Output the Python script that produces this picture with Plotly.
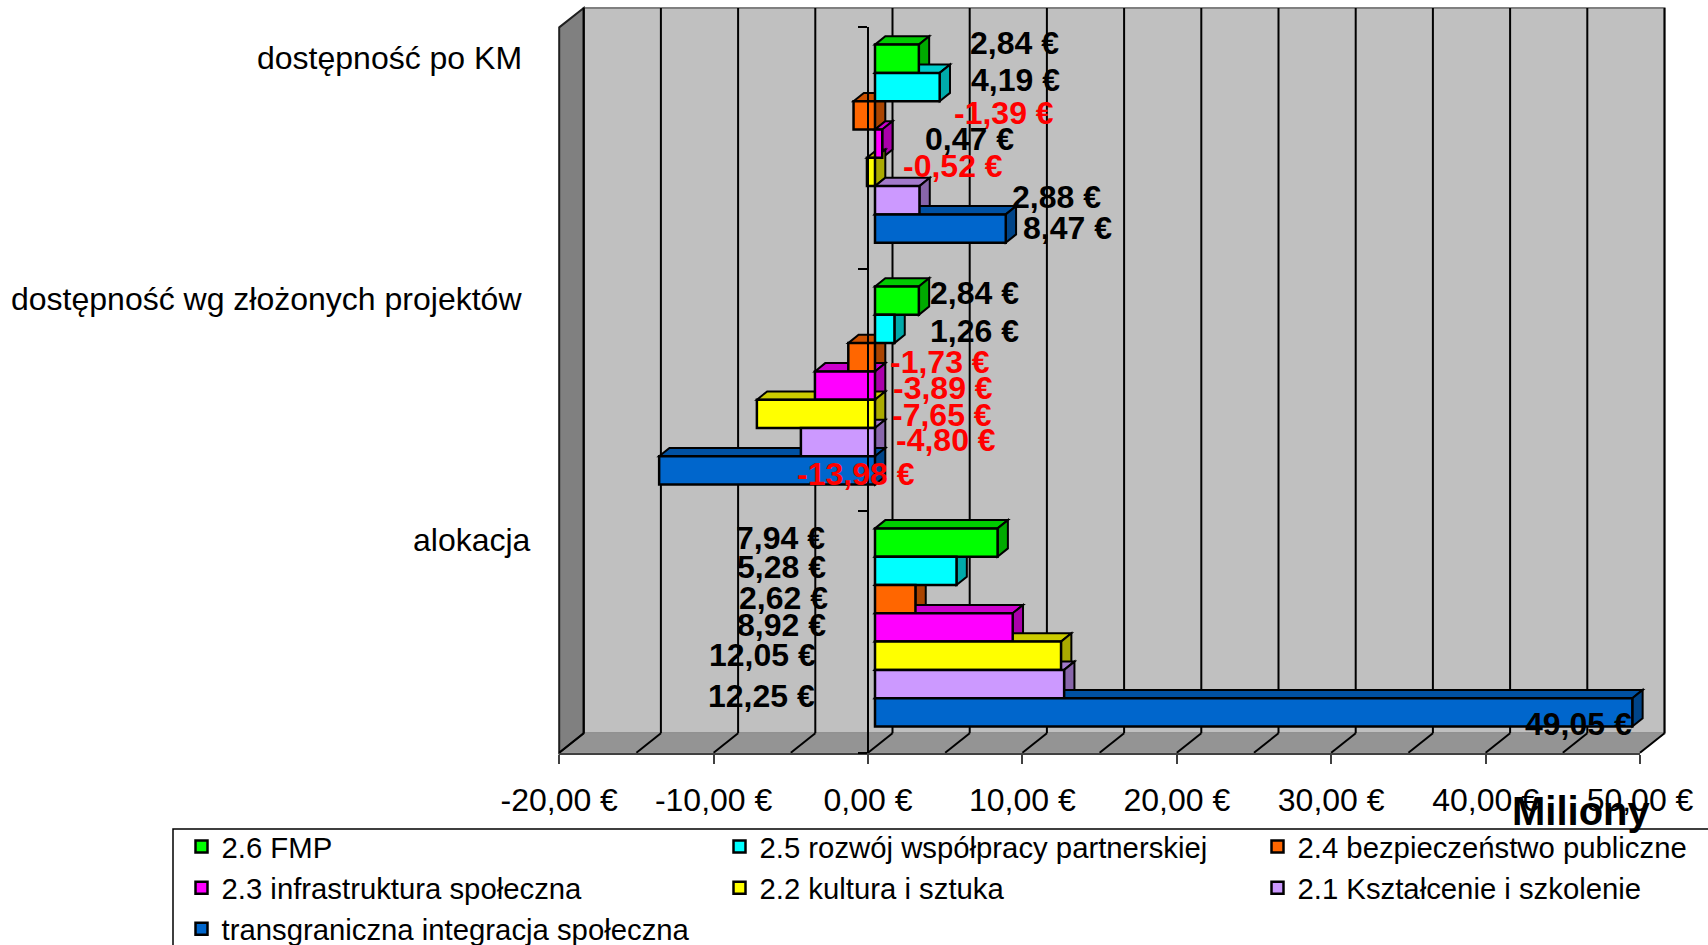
import plotly.graph_objects as go

W, H = 1708, 945
FONT = "Liberation Sans"

# --- data ---------------------------------------------------------------
categories = ["alokacja", "dostępność wg złożonych projektów", "dostępność po KM"]
series_names = ["2.6 FMP", "2.5 rozwój współpracy partnerskiej", "2.4 bezpieczeństwo publiczne",
                "2.3 infrastruktura społeczna", "2.2 kultura i sztuka", "2.1 Kształcenie i szkolenie",
                "transgraniczna integracja społeczna"]
fmp = [7.94, 2.84, 2.84]
rozwoj = [5.28, 1.26, 4.19]
bezpieczenstwo = [2.62, -1.73, -1.39]
infrastruktura = [8.92, -3.89, 0.47]
kultura = [12.05, -7.65, -0.52]
ksztalcenie = [12.25, -4.80, 2.88]
transgraniczna = [49.05, -13.98, 8.47]
series_values = [fmp, rozwoj, bezpieczenstwo, infrastruktura, kultura, ksztalcenie, transgraniczna]
colors = ["#00FF00", "#00FFFF", "#FF6600", "#FF00FF", "#FFFF00", "#CC99FF", "#0066CC"]
x_ticks = [-20, -10, 0, 10, 20, 30, 40, 50]
x_ticktext = ["-20,00 €", "-10,00 €", "0,00 €", "10,00 €", "20,00 €", "30,00 €", "40,00 €", "50,00 €"]
grid_values = list(range(-20, 55, 5))

# --- layout geometry (pixels) --------------------------------------------
X0, XS = 868.0, 15.44            # pixel of value 0, pixels per unit
Y_BOTTOM, Y_TOP = 752.7, 27.0
UNIT_Y = (Y_BOTTOM - Y_TOP) / 3
WALL_DX, WALL_DY = 24.5, 19.4
WALL_TOP = 8.0
BAR_BASE_PX, BAR_RAISE_PX = 7.0, 4.3
BAR_PX = 28.3
DEPTH_DX, DEPTH_DY = 10.3, 8.3

# label centres in pixels, per category then per series
label_pos = [
    [(780, 538), (781, 567), (783, 598), (781, 625), (762, 655), (761, 696), (1578, 724)],
    [(974, 293), (974, 331), (940, 362), (943, 388), (942, 415), (946, 440), (856, 474)],
    [(1014, 43), (1015, 80), (1004, 113), (969, 139), (953, 166), (1056, 197), (1067, 228)],
]
cat_label_pos = [(533, 540), (524, 298.5), (524, 57.7)]


def fx(p):
    return p / W


def fy(p):
    return 1 - p / H


def xp(v):
    return X0 + XS * v


def yp(u):
    return Y_BOTTOM - (u + 0.5) * UNIT_Y


def poly(points, fill, line="#000000", width=2):
    path = "M" + " L".join(f"{fx(a):.5f},{fy(b):.5f}" for a, b in points) + " Z"
    return dict(type="path", path=path, xref="paper", yref="paper", layer="below",
                fillcolor=fill, line=dict(color=line, width=width))


def shade(hexcol, k):
    r, g, b = (int(hexcol[i:i + 2], 16) for i in (1, 3, 5))
    return f"rgb({int(r * k)},{int(g * k)},{int(b * k)})"


shapes = []
x_l, x_r = xp(-20), xp(50)
# back wall, floor, left wall
shapes.append(poly([(x_l + WALL_DX, WALL_TOP), (x_r + WALL_DX, WALL_TOP),
                    (x_r + WALL_DX, Y_BOTTOM - WALL_DY), (x_l + WALL_DX, Y_BOTTOM - WALL_DY)],
                   "#C0C0C0", "#808080", 2))
shapes.append(poly([(x_l, Y_BOTTOM), (x_l + WALL_DX, Y_BOTTOM - WALL_DY),
                    (x_r + WALL_DX, Y_BOTTOM - WALL_DY), (x_r, Y_BOTTOM)], "#949494", "#949494", 1))
shapes.append(poly([(x_l, WALL_TOP + WALL_DY), (x_l + WALL_DX, WALL_TOP),
                    (x_l + WALL_DX, Y_BOTTOM - WALL_DY), (x_l, Y_BOTTOM)], "#808080", "#202020", 2))
# gridlines on wall + floor
for v in grid_values:
    xx = xp(v)
    shapes.append(dict(type="line", xref="paper", yref="paper", layer="below",
                       x0=fx(xx + WALL_DX), x1=fx(xx + WALL_DX), y0=fy(WALL_TOP), y1=fy(Y_BOTTOM - WALL_DY),
                       line=dict(color="#000000", width=2)))
    shapes.append(dict(type="line", xref="paper", yref="paper", layer="below",
                       x0=fx(xx), x1=fx(xx + WALL_DX), y0=fy(Y_BOTTOM), y1=fy(Y_BOTTOM - WALL_DY),
                       line=dict(color="#000000", width=2)))

base = BAR_BASE_PX / XS
bar_w = BAR_PX / UNIT_Y
raise_u = BAR_RAISE_PX / UNIT_Y
traces = []
for i, (name, vals, col) in enumerate(zip(series_names, series_values, colors)):
    ys = [c + raise_u + (3 - i) * bar_w for c in range(len(categories))]
    # extruded faces of the 3D bars
    for v, u in zip(vals, ys):
        a, b = sorted((xp(base), xp(base + v)))
        top, bot = yp(u + bar_w / 2), yp(u - bar_w / 2)
        shapes.append(poly([(a, top), (a + DEPTH_DX, top - DEPTH_DY), (b + DEPTH_DX, top - DEPTH_DY), (b, top)],
                           shade(col, 0.8)))
        shapes.append(poly([(b, top), (b + DEPTH_DX, top - DEPTH_DY), (b + DEPTH_DX, bot - DEPTH_DY), (b, bot)],
                           shade(col, 0.667)))
    traces.append(go.Bar(name=name, orientation="h", x=vals, y=ys, base=base, width=bar_w,
                         marker=dict(color=col, line=dict(color="#000000", width=2.5)),
                         hoverinfo="skip"))

# legend box (runs off the page like the reference)
shapes.append(dict(type="rect", xref="paper", yref="paper", layer="below",
                   x0=fx(173), x1=fx(W + 10), y0=fy(829), y1=fy(H + 10),
                   fillcolor="#FFFFFF", line=dict(color="#000000", width=1.5)))

annotations = []
for c, (cat_vals, pos) in enumerate(zip(zip(*series_values), label_pos)):
    for v, (px, py) in zip(cat_vals, pos):
        annotations.append(dict(text=f"{v:.2f}".replace(".", ",") + " €", xref="paper", yref="paper",
                                x=fx(px), y=fy(py), xanchor="center", yanchor="middle", showarrow=False,
                                font=dict(family=FONT, size=32, color="#FF0000" if v < 0 else "#000000",
                                          weight="bold")))
for cat, (px, py) in zip(categories, cat_label_pos):
    annotations.append(dict(text=cat, xref="paper", yref="paper", x=fx(px), y=fy(py),
                            xanchor="right", yanchor="middle", showarrow=False,
                            font=dict(family=FONT, size=32, color="#000000")))
annotations.append(dict(text="Miliony", xref="paper", yref="paper", x=fx(1581), y=fy(811),
                        xanchor="center", yanchor="middle", showarrow=False,
                        font=dict(family=FONT, size=40, color="#000000", weight="bold")))

fig = go.Figure(traces)
fig.update_layout(
    width=W, height=H, autosize=False,
    margin=dict(l=0, r=0, t=0, b=0, pad=0, autoexpand=False),
    paper_bgcolor="#FFFFFF", plot_bgcolor="rgba(0,0,0,0)",
    barmode="overlay", shapes=shapes, annotations=annotations,
    font=dict(family=FONT, color="#000000"),
    xaxis=dict(domain=[fx(xp(-20)), fx(xp(50))], range=[-20, 50], tickmode="array",
               tickvals=x_ticks, ticktext=x_ticktext, ticks="outside", ticklen=9, tickwidth=1.5,
               tickcolor="#404040", showgrid=False, zeroline=False, showline=True, linecolor="#404040",
               linewidth=2, tickfont=dict(family=FONT, size=32), ticklabelstandoff=9,
               tickangle=0, fixedrange=True, automargin=False),
    yaxis=dict(domain=[fy(Y_BOTTOM), fy(Y_TOP)], range=[-0.5, 2.5], anchor="free", position=fx(X0),
               tickmode="array", tickvals=[-0.5, 0.5, 1.5, 2.5], showticklabels=False,
               ticks="outside", ticklen=9, tickwidth=1.5, tickcolor="#000000", showgrid=False,
               zeroline=False, showline=True, linecolor="#000000", linewidth=2, fixedrange=True,
               automargin=False),
    legend=dict(orientation="h", x=fx(181.5), y=fy(821), xanchor="left", yanchor="top",
                bgcolor="rgba(0,0,0,0)", entrywidth=493, entrywidthmode="pixels",
                traceorder="normal", font=dict(family=FONT, size=29.3), itemwidth=30),
    showlegend=True,
)
fig.write_html("out.html", config=dict(displayModeBar=False),
               post_script="document.body.style.margin='0';document.documentElement.style.overflow='hidden';")
